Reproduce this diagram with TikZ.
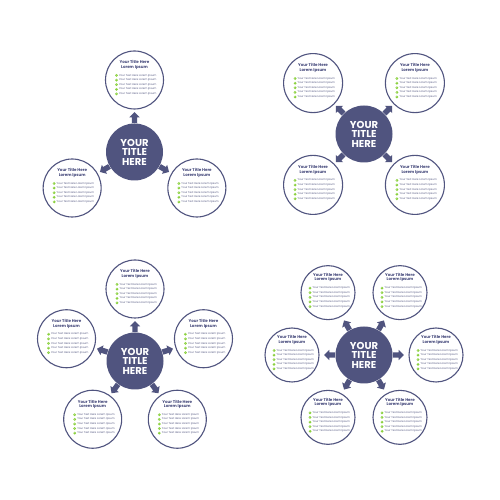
\documentclass[tikz,border=0pt]{standalone}
\usepackage{fontspec}
\setmainfont{Poppins}
\newfontfamily\tickfont{DejaVu Sans}
\usetikzlibrary{shapes.arrows, positioning}

\definecolor{hubblue}{HTML}{50547F}
\definecolor{titleblue}{HTML}{43477A}
\definecolor{textblue}{HTML}{5A5E86}
\definecolor{tickgreen}{HTML}{8BD13F}

\newcommand{\ticksym}{{\tickfont\fontsize{2.2}{2.2}\selectfont ✓}}

\newcommand{\infobubble}[3]{%
  \node[bubble, minimum size=#3] (#1) at (#2) {};
  \node[bubtitle] (#1-t) at ([yshift=15pt]#1.center) {Your Title Here\\Lorem Ipsum};
  \foreach \k in {1,...,5} {
    \node[tick] (#1-c\k) at ([xshift=-18pt, yshift=9.1pt-4.6pt*\k]#1.center) {\ticksym};
    \node[bubtext, right=0.7pt of #1-c\k] (#1-x\k) {Your Text Here Lorem Ipsum};
  }
}

\begin{document}
\begin{tikzpicture}[x=1pt, y=1pt,
    hub/.style={circle, fill=hubblue, minimum size=57pt, inner sep=0pt,
      text=white, align=center, font=\bfseries\fontsize{10}{9.5}\selectfont},
    bubble/.style={circle, draw=hubblue, line width=1.1pt, fill=white, inner sep=0pt},
    bubtitle/.style={inner sep=0pt, align=center, text=titleblue,
      font=\bfseries\fontsize{4}{4.5}\selectfont},
    bubtext/.style={inner sep=0pt, text=textblue, font=\fontsize{2.7}{3}\selectfont},
    tick/.style={circle, fill=tickgreen, text=white, inner sep=0pt, minimum size=3pt},
    blockarrow/.style={single arrow, fill=hubblue, inner sep=2.5pt, minimum height=11pt,
      single arrow head extend=2.5pt, anchor=tail}]

  \fill[white] (0,0) rectangle (500,500);
  \useasboundingbox (0,0) rectangle (500,500);

  % three
  \node[hub] (hubA) at (134.5,348) {YOUR\\TITLE\\HERE};
  \foreach \a [count=\i] in {90,210,330} {
    \infobubble{a\i}{[shift={(\a:72)}]hubA.center}{58pt}
    \node[blockarrow, rotate=\a] (a\i-ar) at (hubA.\a) {};
  }

  % four
  \node[hub] (hubB) at (364,366) {YOUR\\TITLE\\HERE};
  \foreach \a [count=\i] in {45,135,225,315} {
    \infobubble{b\i}{[shift={(\a:72)}]hubB.center}{59pt}
    \node[blockarrow, rotate=\a] (b\i-ar) at (hubB.\a) {};
  }

  % five
  \node[hub] (hubC) at (135,139) {YOUR\\TITLE\\HERE};
  \foreach \a [count=\i] in {90,162,234,306,18} {
    \infobubble{c\i}{[shift={(\a:72)}]hubC.center}{58pt}
    \node[blockarrow, rotate=\a] (c\i-ar) at (hubC.\a) {};
  }

  % six
  \node[hub] (hubD) at (364,145) {YOUR\\TITLE\\HERE};
  \foreach \a [count=\i] in {0,60,120,180,240,300} {
    \infobubble{d\i}{[shift={(\a:72)}]hubD.center}{54pt}
    \node[blockarrow, rotate=\a] (d\i-ar) at (hubD.\a) {};
  }

\end{tikzpicture}
\end{document}
